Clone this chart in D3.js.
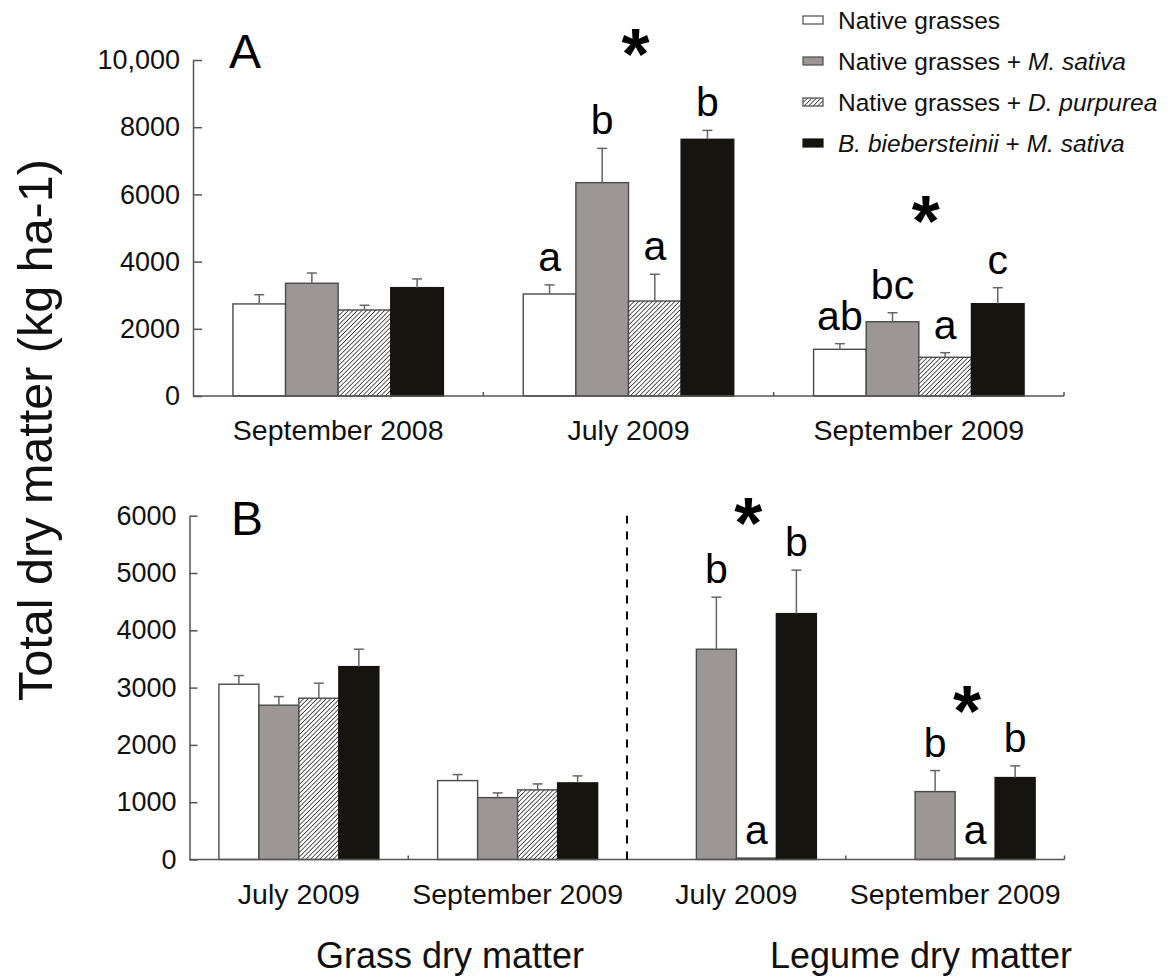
<!DOCTYPE html>
<html>
<head>
<meta charset="utf-8">
<script src="https://cdn.jsdelivr.net/npm/d3@7"></script>
<style>
  html, body { margin: 0; padding: 0; background: #fff; }
  svg { display: block; font-family: "Liberation Sans", Arial, Helvetica, sans-serif; }
</style>
</head>
<body>
<svg id="chart" width="1169" height="977"></svg>
<script>
// ---- Treatments (series) ----
const seriesKeys = ["native", "nativeMs", "nativeDp", "bbMs"];
const legendLabels = [
  [["Native grasses", false]],
  [["Native grasses + ", false], ["M. sativa", true]],
  [["Native grasses + ", false], ["D. purpurea", true]],
  [["B. biebersteinii", true], [" + ", false], ["M. sativa", true]]
];

// ---- Panel A: total dry matter (kg ha-1) ----
const aCategories = ["September 2008", "July 2009", "September 2009"];
const aNative    = [2740, 3036, 1390];
const aNativeSE  = [275, 270, 167];
const aNativeMs  = [3355, 6350, 2210];
const aNativeMsSE= [305, 1020, 268];
const aNativeDp  = [2560, 2827, 1152];
const aNativeDpSE= [140, 795, 137];
const aBbMs      = [3225, 7640, 2747];
const aBbMsSE    = [260, 265, 476];
const aLetters   = [null, ["a", "b", "a", "b"], ["ab", "bc", "a", "c"]];
const aStarLevel = [null, 10500, 5540];
const aTicks     = [0, 2000, 4000, 6000, 8000, 10000];

// ---- Panel B: grass and legume dry matter (kg ha-1) ----
const bCategories = ["July 2009 (grass)", "September 2009 (grass)", "July 2009 (legume)", "September 2009 (legume)"];
const bCategoryLabels = ["July 2009", "September 2009", "July 2009", "September 2009"];
const bNative    = [3059, 1377, null, null];
const bNativeSE  = [151, 105, null, null];
const bNativeMs  = [2693, 1080, 3670, 1185];
const bNativeMsSE= [150, 82, 908, 367];
const bNativeDp  = [2815, 1215, 25, 25];
const bNativeDpSE= [262, 104, 0, 0];
const bBbMs      = [3366, 1337, 4291, 1430];
const bBbMsSE    = [304, 122, 758, 204];
const bLetters   = [null, null, ["", "b", "a", "b"], ["", "b", "a", "b"]];
const bStarLevel = [null, null, 6060, 2790];
const bTicks     = [0, 1000, 2000, 3000, 4000, 5000, 6000];
const groupTitles = ["Grass dry matter", "Legume dry matter"];

// ---- Styles ----
const fills = { native: "#ffffff", nativeMs: "#9c9696", nativeDp: "url(#hatch)", bbMs: "#15140f" };
const axisColor = "#555";
const textColor = "#111";

const svg = d3.select("#chart");

// diagonal hatch for the D. purpurea series
const defs = svg.append("defs");
const pat = defs.append("pattern")
  .attr("id", "hatch").attr("patternUnits", "userSpaceOnUse")
  .attr("width", 3.2).attr("height", 3.2)
  .attr("patternTransform", "rotate(45)");
pat.append("rect").attr("width", 3.2).attr("height", 3.2).attr("fill", "#fff");
pat.append("line").attr("x1", 0).attr("y1", 0).attr("x2", 0).attr("y2", 3.2)
  .attr("stroke", "#333").attr("stroke-width", 1.6);

function buildRows(cats, vals, ses) {
  return cats.map((c, i) => ({
    cat: c, i,
    bars: seriesKeys.map((k, j) => ({ key: k, j, value: vals[j][i], se: ses[j][i] }))
  }));
}

function drawPanel(opt) {
  const g = svg.append("g");
  const y = d3.scaleLinear().domain(opt.domain).range([opt.y0, opt.y1]);
  const x0 = d3.scaleBand().domain(opt.categories).range([opt.xLeft, opt.xRight])
    .paddingInner(opt.pad).paddingOuter(opt.pad / 2);
  const x1 = d3.scaleBand().domain(seriesKeys).range([0, x0.bandwidth()]);
  const rows = buildRows(opt.categories, opt.values, opt.ses);

  // y axis with inward ticks
  const yAxis = d3.axisLeft(y).tickValues(opt.ticks)
    .tickSizeInner(-opt.ytick).tickSizeOuter(0).tickPadding(13)
    .tickFormat(d => d >= 10000 ? d3.format(",")(d) : String(d));
  const ya = g.append("g").attr("transform", `translate(${opt.xLeft},0)`).call(yAxis);
  ya.select(".domain").attr("stroke", axisColor).attr("stroke-width", 1.5);
  ya.selectAll(".tick line").attr("stroke", axisColor).attr("stroke-width", 1.5);
  ya.selectAll(".tick text").attr("fill", textColor)
    .style("font-size", "27px").style("font-family", "Liberation Sans, Arial, sans-serif");

  // bars
  const grp = g.selectAll(".grp").data(rows).join("g")
    .attr("transform", d => `translate(${x0(d.cat)},0)`);
  const bar = grp.selectAll(".bar").data(d => d.bars.filter(b => b.value != null)).join("g");
  bar.append("rect")
    .attr("x", b => x1(b.key)).attr("width", x1.bandwidth())
    .attr("y", b => y(b.value)).attr("height", b => y(0) - y(b.value))
    .attr("fill", b => fills[b.key])
    .attr("stroke", b => b.key === "bbMs" ? "#15140f" : "#4a4a4a")
    .attr("stroke-width", 1.4);
  // error bars
  const eb = bar.filter(b => b.se > 0);
  eb.append("line")
    .attr("x1", b => x1(b.key) + x1.bandwidth() / 2).attr("x2", b => x1(b.key) + x1.bandwidth() / 2)
    .attr("y1", b => y(b.value)).attr("y2", b => y(b.value + b.se))
    .attr("stroke", "#666").attr("stroke-width", 1.5);
  eb.append("line")
    .attr("x1", b => x1(b.key) + x1.bandwidth() / 2 - 5).attr("x2", b => x1(b.key) + x1.bandwidth() / 2 + 5)
    .attr("y1", b => y(b.value + b.se)).attr("y2", b => y(b.value + b.se))
    .attr("stroke", "#666").attr("stroke-width", 1.5);

  // significance letters
  grp.each(function (d) {
    const letters = opt.letters[d.i];
    if (!letters) return;
    d3.select(this).selectAll(".let").data(d.bars.map((b, j) => ({ b, t: letters[j] })).filter(o => o.t))
      .join("text")
      .attr("x", o => x1(o.b.key) + x1.bandwidth() / 2)
      .attr("y", o => y(o.b.value + (o.b.se || 0)) - 14)
      .attr("text-anchor", "middle").attr("fill", "#000")
      .style("font-size", "41px")
      .text(o => o.t);
  });

  // asterisks
  g.selectAll(".star").data(opt.categories.map((c, i) => ({ c, lvl: opt.stars[i] })).filter(s => s.lvl != null))
    .join("text")
    .attr("x", s => x0(s.c) + x0.bandwidth() / 2 + opt.starDx)
    .attr("y", s => y(s.lvl) + 36)
    .attr("text-anchor", "middle").attr("fill", "#000")
    .style("font-size", "72px").style("font-weight", "bold")
    .text("*");

  // x axis baseline with inward boundary ticks
  g.append("line").attr("x1", opt.xLeft).attr("x2", opt.xRight)
    .attr("y1", y(0)).attr("y2", y(0)).attr("stroke", axisColor).attr("stroke-width", 1.5);
  const step = x0.step();
  const bounds = d3.range(1, opt.categories.length + 1).map(i => opt.xLeft + i * step);
  g.selectAll(".xt").data(bounds).join("line")
    .attr("x1", d => d).attr("x2", d => d)
    .attr("y1", y(0)).attr("y2", y(0) - 4)
    .attr("stroke", axisColor).attr("stroke-width", 1.5);

  // category labels
  g.selectAll(".cl").data(opt.categories).join("text")
    .attr("x", c => x0(c) + x0.bandwidth() / 2)
    .attr("y", y(0) + 44)
    .attr("text-anchor", "middle").attr("fill", textColor)
    .style("font-size", "28.5px")
    .text((c, i) => opt.labels[i]);

  // panel letter
  g.append("text").attr("x", opt.panelX).attr("y", opt.panelY)
    .attr("fill", "#000").style("font-size", "48px").text(opt.panel);

  return { x0, y, step };
}

const pA = drawPanel({
  categories: aCategories, labels: aCategories,
  values: [aNative, aNativeMs, aNativeDp, aBbMs],
  ses: [aNativeSE, aNativeMsSE, aNativeDpSE, aBbMsSE],
  letters: aLetters, stars: aStarLevel, starDx: 7,
  domain: [0, 10000], y0: 396, y1: 60, ticks: aTicks, ytick: 9,
  xLeft: 193, xRight: 1064, pad: 0.275,
  panel: "A", panelX: 229, panelY: 68
});

const pB = drawPanel({
  categories: bCategories, labels: bCategoryLabels,
  values: [bNative, bNativeMs, bNativeDp, bBbMs],
  ses: [bNativeSE, bNativeMsSE, bNativeDpSE, bBbMsSE],
  letters: bLetters, stars: bStarLevel, starDx: 12,
  domain: [0, 6000], y0: 859.5, y1: 515.7, ticks: bTicks, ytick: 8,
  xLeft: 189.5, xRight: 1064.5, pad: 0.2686,
  panel: "B", panelX: 231, panelY: 535
});

// dashed divider between grass and legume groups
const divX = 189.5 + 2 * pB.step;
svg.append("line").attr("x1", divX).attr("x2", divX)
  .attr("y1", pB.y(0)).attr("y2", pB.y(6000))
  .attr("stroke", "#000").attr("stroke-width", 2).attr("stroke-dasharray", "8,8");

// group titles below panel B
const groupTitleX = [450, 921];
svg.selectAll(".gt").data(groupTitles).join("text")
  .attr("x", (t, i) => groupTitleX[i])
  .attr("y", 968)
  .attr("text-anchor", "middle").attr("fill", textColor)
  .style("font-size", "36px").text(t => t);

// y-axis title
svg.append("text")
  .attr("transform", "translate(52,430) rotate(-90)")
  .attr("text-anchor", "middle").attr("fill", textColor)
  .style("font-size", "48.5px").text("Total dry matter (kg ha-1)");

// legend
const leg = svg.append("g");
const rowsL = leg.selectAll(".lr").data(legendLabels).join("g")
  .attr("transform", (d, i) => `translate(803,${20 + i * 41})`);
rowsL.append("rect").attr("x", 0).attr("y", -4).attr("width", 20).attr("height", 8)
  .attr("fill", (d, i) => fills[seriesKeys[i]])
  .attr("stroke", (d, i) => i === 3 ? "#15140f" : "#4a4a4a").attr("stroke-width", 1.2);
rowsL.append("text").attr("x", 35).attr("y", 8.5).attr("fill", textColor)
  .style("font-size", "24.5px")
  .selectAll("tspan").data(d => d).join("tspan")
  .style("font-style", p => p[1] ? "italic" : "normal")
  .text(p => p[0]);
</script>
</body>
</html>
